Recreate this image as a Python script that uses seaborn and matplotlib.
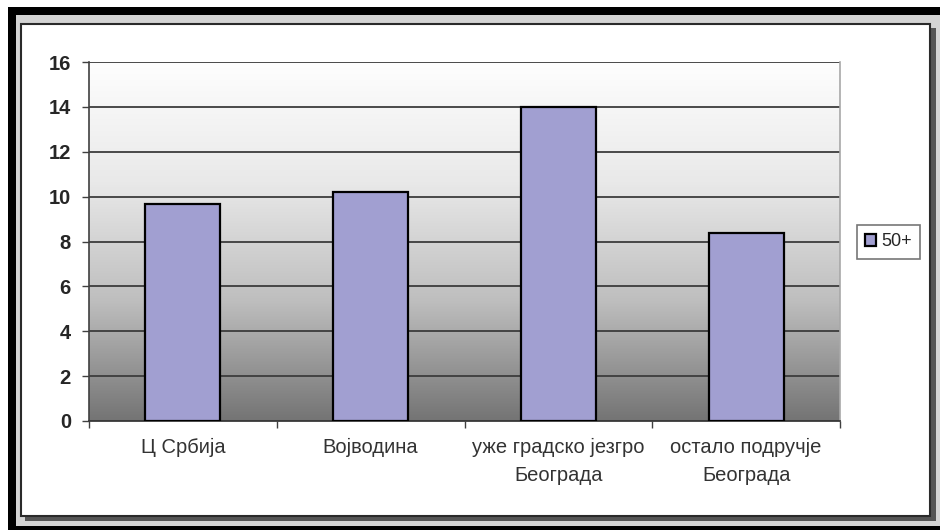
import numpy as np
import pandas as pd
import matplotlib
matplotlib.use('Agg')
import matplotlib.pyplot as plt
from matplotlib.patches import Rectangle
import seaborn as sns

# Data
regions = ['Ц Србија', 'Војводина', 'уже градско језгро\nБеограда', 'остало подручје\nБеограда']
values = [9.65, 10.2, 14.0, 8.4]
series_name = '50+'
y_ticks = [0, 2, 4, 6, 8, 10, 12, 14, 16]

BAR_COLOR = '#a19fd1'
W, H = 940, 530

sns.set_style('ticks')
plt.rcParams['font.family'] = ['Liberation Sans', 'DejaVu Sans']

df = pd.DataFrame({'region': regions, 'value': values, 'series': series_name})

fig = plt.figure(figsize=(W / 100, H / 100), dpi=100)
fig.patch.set_facecolor('white')


def px_rect(x0, y0, x1, y1, **kw):
    """Rectangle given in pixel coords of the image (origin top-left)."""
    return Rectangle((x0 / W, 1 - y1 / H), (x1 - x0) / W, (y1 - y0) / H,
                     transform=fig.transFigure, **kw)


# window frame around the chart
fig.add_artist(px_rect(8, 7, 945, 535, facecolor='black', edgecolor='none', zorder=-10))
fig.add_artist(px_rect(16, 15, 945, 526, facecolor='#d4d4d4', edgecolor='none', zorder=-9))
fig.add_artist(px_rect(25, 28, 936, 521, facecolor='#555555', edgecolor='none', zorder=-8))
fig.add_artist(px_rect(21, 24, 930, 516, facecolor='white', edgecolor='#2a2a2a',
                       linewidth=1.5, zorder=-7))

# plot area
ax = fig.add_axes([89 / W, 1 - 421 / H, 751 / W, 359 / H])

sns.barplot(data=df, x='region', y='value', hue='series', palette=[BAR_COLOR],
            dodge=False, width=0.4, edgecolor='black', linewidth=1.6,
            saturation=1, ax=ax, zorder=3)

# gradient background (light on top, dark at the bottom)
grad = np.linspace(0, 1, 256).reshape(-1, 1)
cmap = matplotlib.colors.LinearSegmentedColormap.from_list(
    'bg', ['#fefefe', '#e9e9e9', '#bebebe', '#747474'])
ax.imshow(grad, cmap=cmap, aspect='auto', extent=[-0.5, 3.5, 0, 16],
          origin='upper', zorder=0)

ax.set_xlim(-0.5, 3.5)
ax.set_ylim(0, 16)
ax.set_yticks(y_ticks)
ax.set_axisbelow(True)
ax.yaxis.grid(True, color='#3c3c3c', linewidth=1.3)
ax.xaxis.grid(False)

ax.set_xlabel('')
ax.set_ylabel('')

# y ticks
ax.tick_params(axis='y', length=5, width=1, color='#404040', pad=8, labelsize=14.5)
for lbl in ax.get_yticklabels():
    lbl.set_fontweight('bold')

# x ticks: labels at categories, tick marks at category boundaries
ax.set_xticks(range(len(regions)))
ax.set_xticklabels(regions, fontsize=14.5, color='#333333', linespacing=1.6)
ax.set_xticks([-0.5, 0.5, 1.5, 2.5, 3.5], minor=True)
ax.tick_params(axis='x', which='major', length=0, pad=12)
ax.tick_params(axis='x', which='minor', length=5, width=1, color='#404040')

ax.spines['top'].set_visible(False)
ax.spines['left'].set_color('#404040')
ax.spines['left'].set_linewidth(1.2)
ax.spines['bottom'].set_color('#3a3a3a')
ax.spines['bottom'].set_linewidth(1.3)
ax.spines['right'].set_color('#a8a8a8')
ax.spines['right'].set_linewidth(1.2)

# legend on the right side
ax.legend(loc='center left', bbox_to_anchor=(857 / W, 1 - 242 / H),
          bbox_transform=fig.transFigure, fontsize=13, frameon=True,
          fancybox=False, edgecolor='#555555', handlelength=0.6, handleheight=0.6,
          handletextpad=0.3, borderpad=0.45, borderaxespad=0)
ax.get_legend().get_frame().set_linewidth(1.2)

fig.savefig('out.png', dpi=100)
